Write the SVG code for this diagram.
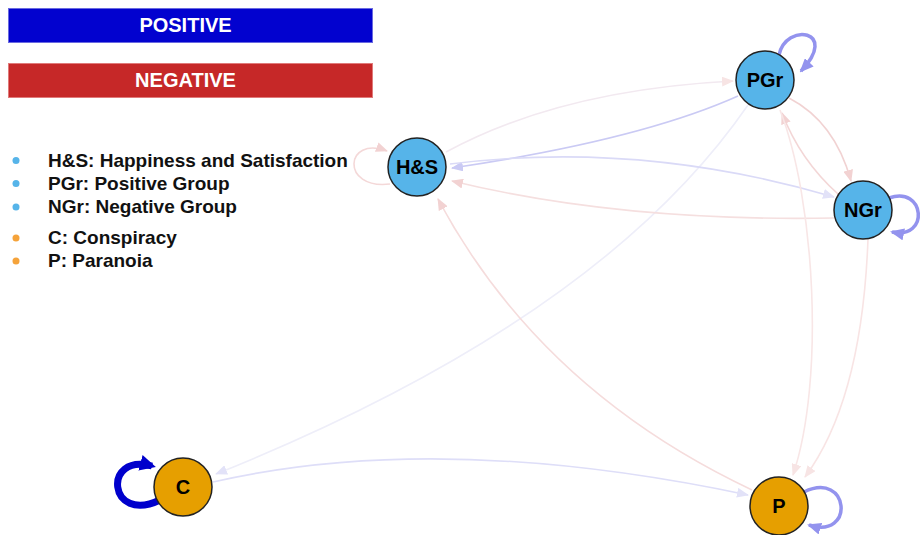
<svg xmlns="http://www.w3.org/2000/svg" width="922" height="535" viewBox="0 0 922 535">
<style>
.lbl{font-family:"Liberation Sans",Arial,sans-serif;font-weight:bold;}
.leg{font-family:"Liberation Sans",Arial,sans-serif;font-weight:bold;font-size:19px;fill:#111;}
.node{stroke:#222;stroke-width:1.5;}
.blue{fill:#56b4e9;}
.orange{fill:#e69f00;}
.nt{font-family:"Liberation Sans",Arial,sans-serif;font-weight:bold;font-size:20px;fill:#000;text-anchor:middle;}
.e{fill:none;stroke-width:1.6;}
</style>
<defs>
<marker id="aRed" markerUnits="userSpaceOnUse" markerWidth="12" markerHeight="10" refX="11" refY="5" orient="auto"><path d="M0,0 L12,5 L0,10 z" fill="#f2d2d2"/></marker>
<marker id="aRedF" markerUnits="userSpaceOnUse" markerWidth="12" markerHeight="10" refX="11" refY="5" orient="auto"><path d="M0,0 L12,5 L0,10 z" fill="#f7e4e4"/></marker>
<marker id="aBlueL" markerUnits="userSpaceOnUse" markerWidth="12" markerHeight="10" refX="11" refY="5" orient="auto"><path d="M0,0 L12,5 L0,10 z" fill="#cacaf4"/></marker>
<marker id="aBlueF" markerUnits="userSpaceOnUse" markerWidth="12" markerHeight="10" refX="11" refY="5" orient="auto"><path d="M0,0 L12,5 L0,10 z" fill="#e2e2f8"/></marker>
<marker id="aBlueM" markerUnits="userSpaceOnUse" markerWidth="14" markerHeight="12" refX="12" refY="6" orient="auto"><path d="M0,0 L14,6 L0,12 z" fill="#9393ee"/></marker>
<marker id="aBlueS" markerUnits="userSpaceOnUse" markerWidth="16" markerHeight="16" refX="12" refY="8" orient="auto"><path d="M0,0 L16,8 L0,16 z" fill="#0000cc"/></marker>
</defs>

<g id="legend">
<rect x="8.5" y="8.5" width="364" height="34" fill="#0202cf" stroke="#6a6ae0" stroke-width="1"/>
<text x="185.5" y="31.5" class="lbl" font-size="20" fill="#fff" text-anchor="middle">POSITIVE</text>
<rect x="8.5" y="63.5" width="364" height="34" fill="#c62828" stroke="#e07a7a" stroke-width="1"/>
<text x="185.5" y="87" class="lbl" font-size="20" fill="#fff" text-anchor="middle">NEGATIVE</text>
<circle cx="16" cy="160.5" r="3.5" fill="#56b4e9"/>
<circle cx="16" cy="183.5" r="3.5" fill="#56b4e9"/>
<circle cx="16" cy="207" r="3.5" fill="#56b4e9"/>
<circle cx="16" cy="238" r="3.5" fill="#f5a33a"/>
<circle cx="16" cy="261" r="3.5" fill="#f5a33a"/>
<text x="48" y="167" class="leg">H&amp;S: Happiness and Satisfaction</text>
<text x="48" y="190" class="leg">PGr: Positive Group</text>
<text x="48" y="213" class="leg">NGr: Negative Group</text>
<text x="48" y="244" class="leg">C: Conspiracy</text>
<text x="48" y="267" class="leg">P: Paranoia</text>
</g>

<g id="connectors">
<path class="e" d="M 446 152 Q 560 90 733 81" stroke="#f2e9f0" marker-end="url(#aRedF)"/>
<path class="e" d="M 748 105 Q 600 320 216 474" stroke="#eeeef9" marker-end="url(#aBlueF)"/>
<path class="e" d="M 752 490 Q 540 390 438 199" stroke="#f5dcdc" marker-end="url(#aRed)"/>
<path class="e" d="M 834 218 Q 620 222 452 181" stroke="#f5dfdf" marker-end="url(#aRed)"/>
<path class="e" d="M 738 96 Q 640 140 452 168" stroke="#cacaf4" marker-end="url(#aBlueL)"/>
<path class="e" d="M 450 164 Q 640 140 834 197" stroke="#dadaf7" marker-end="url(#aBlueF)"/>
<path class="e" d="M 213 482 Q 440 430 748 495" stroke="#dedef8" marker-end="url(#aBlueF)"/>
<path class="e" d="M 789 98 Q 835 122 851 181" stroke="#f1d2d2" marker-end="url(#aRed)"/>
<path class="e" d="M 838 194 Q 800 160 782 113" stroke="#f3d6d6" marker-end="url(#aRed)"/>
<path class="e" d="M 780 110 C 815 200 825 380 793 475" stroke="#f8e6e6" marker-end="url(#aRedF)"/>
<path class="e" d="M 868 239 Q 862 400 805 477" stroke="#f8e4e4" marker-end="url(#aRedF)"/>
<path class="e" d="M 390 184 C 340 190 345 135 387 151" stroke="#f4d8d8" marker-end="url(#aRed)"/>
<path fill="none" stroke="#9393ee" stroke-width="3.5" d="M 779 55 C 786 22 840 30 801 71" marker-end="url(#aBlueM)"/>
<path fill="none" stroke="#9393ee" stroke-width="3.5" d="M 889 198 C 925 185 930 240 892 232" marker-end="url(#aBlueM)"/>
<path fill="none" stroke="#9393ee" stroke-width="3.5" d="M 804 492 C 850 470 855 540 809 525" marker-end="url(#aBlueM)"/>
<path fill="none" stroke="#0000cc" stroke-width="7" d="M 160 500 C 108 525 102 452 152 466" marker-end="url(#aBlueS)"/>
</g>

<g id="node-HS"><circle cx="417" cy="167" r="29" class="node blue"/><text x="417" y="174" class="nt">H&amp;S</text></g>
<g id="node-PGr"><circle cx="765" cy="80" r="29" class="node blue"/><text x="765" y="87" class="nt">PGr</text></g>
<g id="node-NGr"><circle cx="863" cy="210" r="29" class="node blue"/><text x="863" y="217" class="nt">NGr</text></g>
<g id="node-C"><circle cx="183" cy="487" r="29" class="node orange"/><text x="183" y="494" class="nt">C</text></g>
<g id="node-P"><circle cx="779" cy="506" r="29" class="node orange"/><text x="779" y="513" class="nt">P</text></g>
</svg>
